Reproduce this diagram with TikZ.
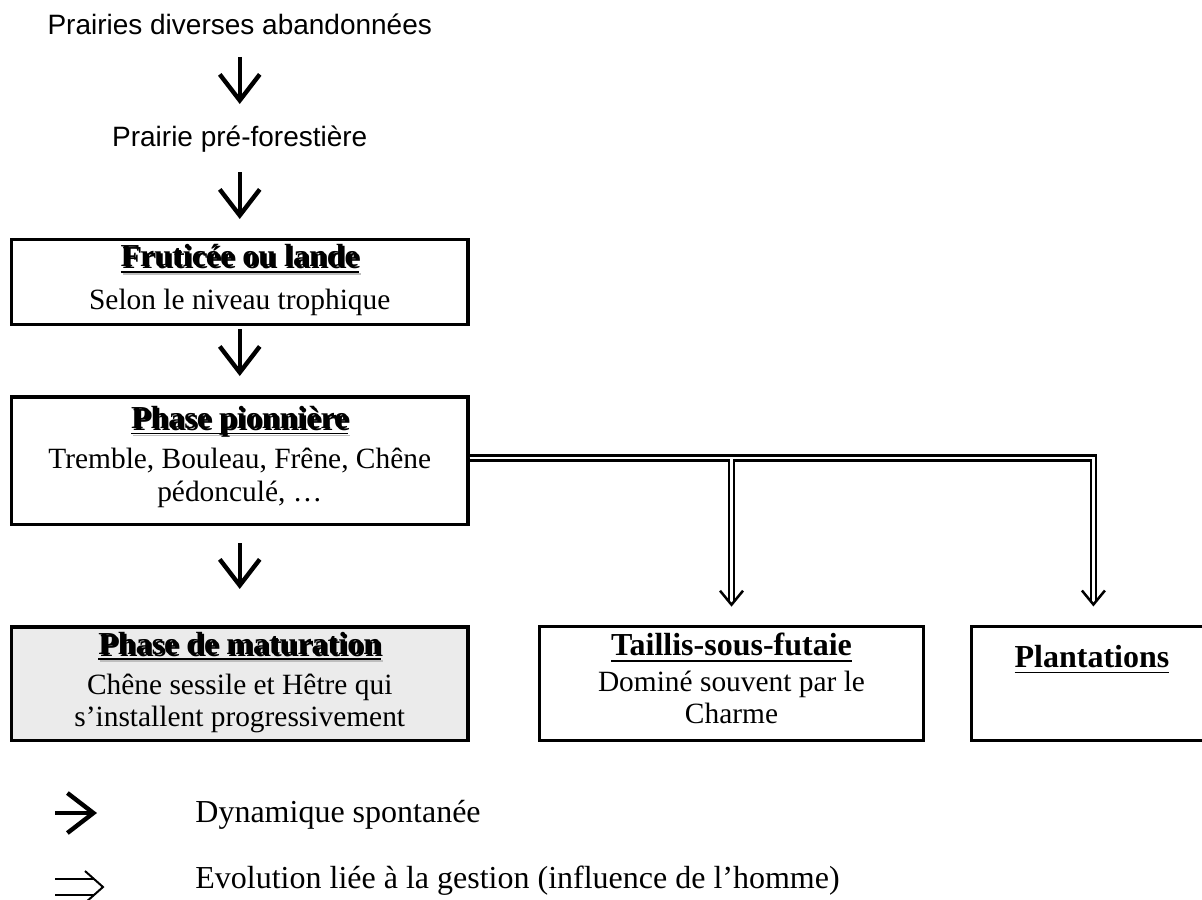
\documentclass[tikz,border=0pt]{standalone}
\usepackage{fontspec}
\setmainfont{Liberation Serif}
\newfontfamily\sansfam{Liberation Sans}
\usetikzlibrary{arrows.meta,calc}
\definecolor{shgray}{RGB}{190,190,190}
\definecolor{matfill}{RGB}{235,235,235}
\newsavebox\ttlbox
\newcommand{\ttlplain}[1]{\sbox\ttlbox{\bfseries #1}\rlap{\rule[-3pt]{\wd\ttlbox}{0.9pt}}\usebox\ttlbox}
\newcommand{\ttlshadow}[1]{\sbox\ttlbox{\bfseries #1}%
  \rlap{\hspace{1pt}\raisebox{-1pt}{\color{shgray}\rlap{\rule[-3pt]{\wd\ttlbox}{0.9pt}}\usebox\ttlbox}}%
  \rlap{\rule[-3pt]{\wd\ttlbox}{0.9pt}}\usebox\ttlbox}
\begin{document}
\begin{tikzpicture}[x=0.5pt,y=-0.5pt,
  bx/.style={draw,line width=1.6pt,inner sep=0pt,outer sep=0pt,rectangle},
  ttxt/.style={inner sep=0pt,anchor=base,font=\fontsize{16}{18}\selectfont},
  btxt/.style={inner sep=0pt,anchor=base,font=\fontsize{14.7}{16}\selectfont},
  stxt/.style={inner sep=0pt,anchor=base,font=\sansfam\fontsize{14}{16}\selectfont},
  ltxt/.style={inner sep=0pt,anchor=base west,font=\fontsize{16}{18}\selectfont},
  thk/.style={line width=2.2pt,-{Straight Barb[length=13pt,width=20pt]}},
  dbl/.style={line width=1.3pt,double=white,double distance=1.3pt},
  dhead/.style={line width=1.25pt,line join=miter},
  thinln/.style={line width=1pt}]
\useasboundingbox (0,0) rectangle (1202,899);
\clip (0,0) rectangle (1202,899);

% top texts
\node[stxt] (t1) at (239.75,35) {Prairies diverses abandonnées};
\node[stxt] (t2) at (239.75,146.7) {Prairie pré-forestière};

% box 1
\node[bx,minimum width=228.25pt,minimum height=42.3pt] (b1) at (239.75,282) {};
\node[ttxt] (b1t) at (239.75,266.7) {\ttlshadow{Fruticée ou lande}};
\node[btxt] (b1a) at (239.75,309.5) {Selon le niveau trophique};

% box 2
\node[bx,minimum width=228.25pt,minimum height=63.65pt] (b2) at (239.75,460.7) {};
\node[ttxt] (b2t) at (239.75,428.3) {\ttlshadow{Phase pionnière}};
\node[btxt] (b2a) at (239.75,468.3) {Tremble, Bouleau, Frêne, Chêne};
\node[btxt] (b2b) at (239.75,501.7) {pédonculé, …};

% box 3
\node[bx,fill=matfill,minimum width=228.25pt,minimum height=56.85pt] (b3) at (239.75,683.8) {};
\node[ttxt] (b3t) at (239.75,654) {\ttlshadow{Phase de maturation}};
\node[btxt] (b3a) at (239.75,694) {Chêne sessile et Hêtre qui};
\node[btxt] (b3b) at (239.75,726.7) {s’installent progressivement};

% box 4
\node[bx,minimum width=192.2pt,minimum height=57pt] (b4) at (731.5,683.7) {};
\node[ttxt] (b4t) at (731.5,655.5) {\ttlplain{Taillis-sous-futaie}};
\node[btxt] (b4a) at (731.5,691.7) {Dominé souvent par le};
\node[btxt] (b4b) at (731.5,723.3) {Charme};

% box 5
\node[bx,minimum width=121.65pt,minimum height=57pt] (b5) at (1093.4,683.5) {};
\node[ttxt] (b5t) at (1092,667.3) {\ttlplain{Plantations}};

% spontaneous dynamics arrows
\draw[thk,shorten <=11pt,shorten >=21.35pt] (t1.base) -- (t2.base);
\draw[thk,shorten <=12.65pt,shorten >=10.35pt] (t2.base) -- (b1.north);
\draw[thk,shorten <=2.35pt,shorten >=10.5pt] (b1.south) -- (b2.north);
\draw[thk,shorten <=9.35pt,shorten >=19pt] (b2.south) -- (b3.north);

% management arrows
\draw[dbl] ($(b2.east)+(1.6,-2.7)$) -| ($(b5.north)+(0,-25.7)$);
\coordinate (j) at ($(b4.north |- b2.east)+(0,-1.4)$);
\draw[dbl] (j) -- ($(b4.north)+(0,-25.7)$);
\draw[dhead] ($(b4.north)+(-11.5,-36)$) -- ($(b4.north)+(0,-22)$) -- ($(b4.north)+(11.5,-36)$);
\draw[dhead] ($(b5.north)+(-11.5,-36)$) -- ($(b5.north)+(0,-22)$) -- ($(b5.north)+(11.5,-36)$);

% legend
\coordinate (la) at (55,813);
\coordinate (lb) at (97,813);
\draw[thk] (la) -- (lb);
\coordinate (lc1) at (55,879);
\coordinate (ld1) at (94,879);
\coordinate (lc2) at (55,895);
\coordinate (ld2) at (94,895);
\coordinate (le1) at (85,871);
\coordinate (le2) at (103,887);
\coordinate (le3) at (85,903);
\draw[thinln] (lc1) -- (ld1);
\draw[thinln] (lc2) -- (ld2);
\draw[thinln,line join=miter] (le1) -- (le2) -- (le3);
\node[ltxt] (lg1) at (195,822.5) {Dynamique spontanée};
\node[ltxt] (lg2) at (195,888.5) {Evolution liée à la gestion (influence de l’homme)};
\end{tikzpicture}
\end{document}
